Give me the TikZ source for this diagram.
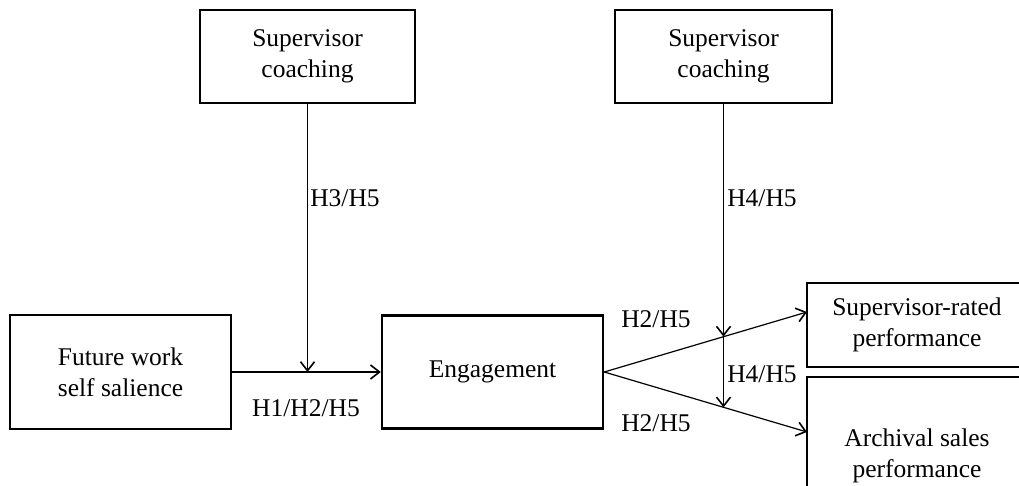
\documentclass[tikz,border=0pt]{standalone}
\usepackage{fontspec}
\setmainfont{Liberation Serif}
\usepackage{tikz}
\usetikzlibrary{arrows.meta,positioning}

\begin{document}
\begin{tikzpicture}[x=1pt, y=-1pt,
		box/.style={draw, line width=2.4pt, align=center, inner sep=0pt,
			font=\fontsize{25.5}{31}\selectfont},
		hyp/.style={inner sep=0pt, font=\fontsize{25.5}{31}\selectfont},
		arr/.style={line width=1.2pt, -{Straight Barb[length=9pt,width=14pt,line width=1.6pt]}}]
			\clip (0,0) rectangle (1019,486);
			\fill[white] (0,0) rectangle (1019,486);
			% moderators
			\node[box, minimum width=215pt, minimum height=93pt] (coachA) at (307.5,56.5) {Supervisor\\coaching};
			\node[box, minimum width=217pt, minimum height=93pt] (coachB) at (723.5,56.5) {Supervisor\\coaching};
			% main path
			\node[box, minimum width=221pt, minimum height=114pt] (future) at (120.5,372) {Future work\\self salience};
			\node[box, minimum width=221pt, minimum height=113pt] (engage) at (492.5,372) {Engagement};
			\node[box, minimum width=220pt, minimum height=84pt] (rated) at (917,325) {Supervisor-rated\\performance};
			\node[box, minimum width=220pt, minimum height=158pt] (sales) at (917,456) {Archival sales\\performance};

			\coordinate (ratedin) at (807,312);
			\coordinate (salesin) at (807,432);
			\coordinate (hitA) at (engage.west -| coachA.south);
			\coordinate (hitup) at (723.5,336.6);
			\coordinate (hitlo) at (723.5,407.4);

			\draw[arr] (future.east) -- (engage.west);
			\draw[arr] (coachA.south) -- (hitA);
			\draw[arr] (engage.east) -- (ratedin);
			\draw[arr] (engage.east) -- (salesin);
			\draw[arr] (coachB.south) -- (hitup);
			\draw[arr] (hitup) -- (hitlo);

			% hypotheses
			\node[hyp] (h35) at (345,198) {H3/H5};
			\node[hyp] (h45a) at (762,198) {H4/H5};
			\node[hyp] (h125) at (306,408) {H1/H2/H5};
			\node[hyp] (h25a) at (656,319) {H2/H5};
			\node[hyp] (h45b) at (762,374) {H4/H5};
			\node[hyp] (h25b) at (656,423) {H2/H5};
		\end{tikzpicture}
\end{document}
